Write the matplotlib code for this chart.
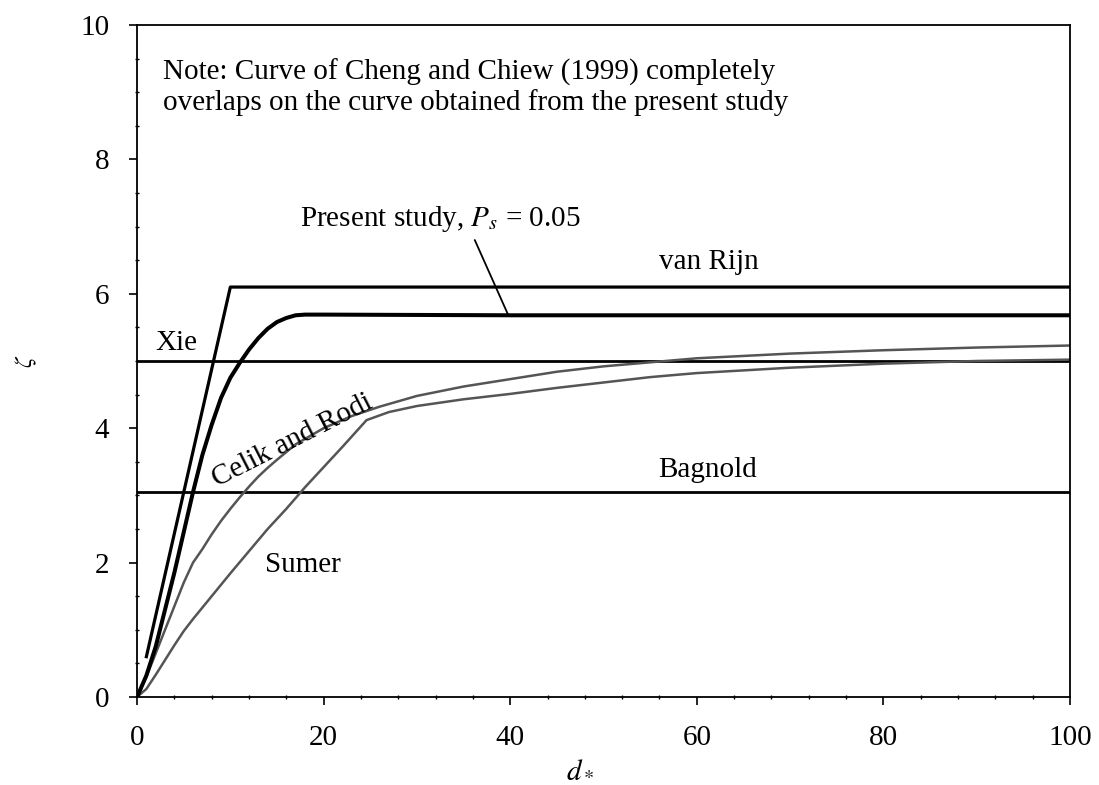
import numpy as np
import matplotlib
matplotlib.use("Agg")
import matplotlib.pyplot as plt
from matplotlib.ticker import MultipleLocator

plt.rcParams['font.family'] = ['Liberation Serif', 'DejaVu Serif']
plt.rcParams['mathtext.fontset'] = 'stix'

# values
d_present = [0, 1, 2, 3, 4, 5, 6, 7, 8, 9, 10, 11, 12, 13, 14, 15, 16, 17, 18, 20, 40, 60, 80, 100]
z_present = [0, 0.32, 0.75, 1.3, 1.85, 2.45, 3.05, 3.6, 4.05, 4.45, 4.75, 4.97, 5.17, 5.34,
             5.48, 5.58, 5.64, 5.68, 5.69, 5.69, 5.68, 5.68, 5.68, 5.68]

d_vanrijn = [1, 10, 100]
z_vanrijn = [0.6, 6.1, 6.1]

d_xie = [0, 100]
z_xie = [5.0, 5.0]

d_bagnold = [0, 100]
z_bagnold = [3.05, 3.05]

d_celik = [0, 1, 2, 3, 4, 5, 6, 7, 8, 9, 10, 11, 12, 13, 14, 15, 17, 20, 23, 26, 30, 35,
           40, 45, 50, 55, 60, 70, 80, 90, 100]
z_celik = [0, 0.3, 0.65, 1.0, 1.35, 1.7, 2.0, 2.2, 2.42, 2.62, 2.8, 2.97, 3.13, 3.28, 3.41,
           3.53, 3.76, 4.0, 4.18, 4.32, 4.48, 4.62, 4.73, 4.84, 4.92, 4.98, 5.04, 5.11,
           5.16, 5.2, 5.23]

d_sumer = [0, 1, 2, 3, 4, 5, 6, 8, 10, 12, 14, 16, 18, 20, 22, 24.6, 27, 30, 35, 40, 45,
           50, 55, 60, 70, 80, 90, 100]
z_sumer = [0, 0.12, 0.33, 0.55, 0.77, 0.98, 1.16, 1.5, 1.84, 2.17, 2.5, 2.8, 3.12, 3.42,
           3.72, 4.12, 4.24, 4.33, 4.43, 4.51, 4.6, 4.68, 4.76, 4.82, 4.9, 4.96, 5.0, 5.02]

fig = plt.figure(figsize=(10.99, 7.85), dpi=100)
ax = fig.add_axes([0.1247, 0.1121, 0.8489, 0.8561])

# Lines
ax.plot(d_xie, z_xie, color='black', lw=2.0)
ax.plot(d_bagnold, z_bagnold, color='black', lw=2.0)
ax.plot(d_celik, z_celik, color='#555555', lw=1.8)
ax.plot(d_sumer, z_sumer, color='#555555', lw=1.8)
ax.plot(d_vanrijn, z_vanrijn, color='black', lw=2.3)
ax.plot(d_present, z_present, color='black', lw=2.9)

# Labels on the curves
fs = 21
ax.text(2.8, 9.29, 'Note: Curve of Cheng and Chiew (1999) completely', fontsize=fs, va='center')
ax.text(2.8, 8.84, 'overlaps on the curve obtained from the present study', fontsize=fs, va='center')
ax.text(17.5, 7.12, r'Present study, $P_s$ = 0.05', fontsize=fs, va='center')
ax.annotate('', xy=(39.8, 5.68), xytext=(36.2, 6.80),
            arrowprops=dict(arrowstyle='-', color='black', lw=1.3, shrinkA=0, shrinkB=0))
ax.text(61.3, 6.47, 'van Rijn', fontsize=fs, ha='center', va='center')
ax.text(4.2, 5.27, 'Xie', fontsize=fs, ha='center', va='center')
ax.text(16.7, 3.82, 'Celik and Rodi', fontsize=fs, ha='center', va='center', rotation=27)
ax.text(61.2, 3.38, 'Bagnold', fontsize=fs, ha='center', va='center')
ax.text(17.8, 1.96, 'Sumer', fontsize=fs, ha='center', va='center')

# Axes
ax.set_xlim(0, 100)
ax.set_ylim(0, 10)
ax.xaxis.set_major_locator(MultipleLocator(20))
ax.xaxis.set_minor_locator(MultipleLocator(4))
ax.yaxis.set_major_locator(MultipleLocator(2))
ax.yaxis.set_minor_locator(MultipleLocator(0.5))
ax.tick_params(which='major', direction='out', length=6, width=1.2, labelsize=fs, pad=14)
ax.tick_params(which='minor', direction='inout', length=3, width=1.0)
ax.tick_params(top=False, right=False, which='both')
for s in ax.spines.values():
    s.set_linewidth(1.3)

ax.set_xlabel(r'$d_*$', fontsize=fs)
ax.xaxis.set_label_coords(0.475, -0.09)
ax.set_ylabel(r'$\zeta$', fontsize=17)
ax.yaxis.set_label_coords(-0.105, 0.5)

fig.savefig('out.png', dpi=100)
